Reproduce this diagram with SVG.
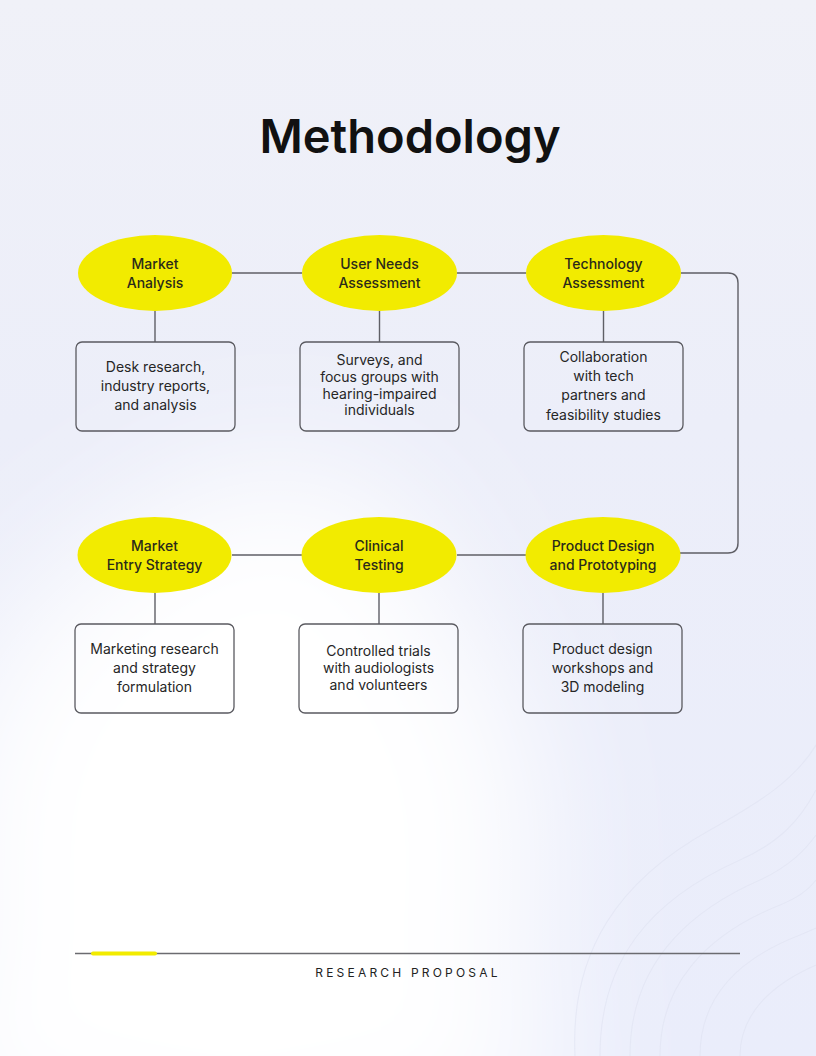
<svg xmlns="http://www.w3.org/2000/svg" width="816" height="1056" viewBox="0 0 816 1056">
  <defs>
    <linearGradient id="bgBase" x1="0" y1="0" x2="0" y2="1">
      <stop offset="0" stop-color="#f0f1f8"/>
      <stop offset="0.4" stop-color="#eceef9"/>
      <stop offset="1" stop-color="#eaedfb"/>
    </linearGradient>
    <filter id="blur" x="-50%" y="-50%" width="200%" height="200%">
      <feGaussianBlur stdDeviation="70"/>
    </filter>
    <style>
      .title { font-family: "Inter", "Open Sans", sans-serif; font-weight: 600; font-size: 47px; fill: #111111; }
      .oval { fill: #f2eb00; }
      .ovaltxt { font-family: "Inter", "Open Sans", sans-serif; font-weight: 500; font-size: 14px; fill: #2a2a1a; text-anchor: middle; }
      .box { fill: none; stroke: #5a5a60; stroke-width: 1.3; }
      .boxtxt { font-family: "Inter", "Open Sans", sans-serif; font-size: 14px; fill: #262626; text-anchor: middle; }
      .conn { fill: none; stroke: #5f5f66; stroke-width: 1.4; }
      .wave { fill: none; stroke: #dfe2f1; stroke-width: 1.2; }
      .footer { font-family: "Inter", "Open Sans", sans-serif; font-size: 12px; letter-spacing: 3.2px; fill: #222222; text-anchor: middle; }
    </style>
  </defs>

  <!-- background -->
  <rect x="0" y="0" width="816" height="1056" fill="url(#bgBase)"/>
  <g filter="url(#blur)">
    <ellipse cx="240" cy="850" rx="300" ry="340" fill="#ffffff"/>
    <ellipse cx="280" cy="560" rx="150" ry="90" fill="#ffffff"/>
    <rect x="-100" y="1000" width="650" height="150" fill="#ffffff"/>
  </g>
  <g id="waves" opacity="0.55">
    <path class="wave" d="M600 1056 C 600 960, 650 900, 740 860 C 780 842, 800 820, 816 790"/>
    <path class="wave" d="M630 1056 C 630 970, 680 915, 760 880 C 790 866, 805 850, 816 835"/>
    <path class="wave" d="M660 1056 C 660 985, 705 935, 780 905 C 800 897, 810 888, 816 880"/>
    <path class="wave" d="M700 1056 C 700 1000, 735 960, 800 935 L 816 928"/>
    <path class="wave" d="M740 1056 C 740 1015, 770 985, 816 965"/>
    <path class="wave" d="M575 1056 C 570 950, 620 880, 710 830 C 760 802, 795 780, 816 745"/>
  </g>

  <!-- title -->
  <text class="title" x="410" y="153" text-anchor="middle">Methodology</text>

  <!-- connectors -->
  <g id="connectors">
    <line class="conn" x1="232" y1="273" x2="302" y2="273"/>
    <line class="conn" x1="457" y1="273" x2="526" y2="273"/>
    <path class="conn" d="M681 273 H728 Q738 273 738 283 V543 Q738 553 728 553 H680"/>
    <line class="conn" x1="232" y1="555" x2="302" y2="555"/>
    <line class="conn" x1="457" y1="555" x2="526" y2="555"/>
    <line class="conn" x1="155" y1="311" x2="155" y2="342"/>
    <line class="conn" x1="379.5" y1="311" x2="379.5" y2="342"/>
    <line class="conn" x1="603.5" y1="311" x2="603.5" y2="342"/>
    <line class="conn" x1="155" y1="593" x2="155" y2="624"/>
    <line class="conn" x1="379" y1="593" x2="379" y2="624"/>
    <line class="conn" x1="603" y1="593" x2="603" y2="624"/>
  </g>

  <!-- row 1 -->
  <g id="market-analysis">
    <ellipse class="oval" cx="155" cy="273" rx="77" ry="38"/>
    <text class="ovaltxt" x="155" y="269">Market</text>
    <text class="ovaltxt" x="155" y="288">Analysis</text>
  </g>
  <g id="market-analysis-detail">
    <rect class="box" x="76" y="342" width="159" height="89" rx="6"/>
    <text class="boxtxt" x="155.5" y="372">Desk research,</text>
    <text class="boxtxt" x="155.5" y="391">industry reports,</text>
    <text class="boxtxt" x="155.5" y="410">and analysis</text>
  </g>

  <g id="user-needs">
    <ellipse class="oval" cx="379.5" cy="273" rx="77.5" ry="38"/>
    <text class="ovaltxt" x="379.5" y="269">User Needs</text>
    <text class="ovaltxt" x="379.5" y="288">Assessment</text>
  </g>
  <g id="user-needs-detail">
    <rect class="box" x="300" y="342" width="159" height="89" rx="6"/>
    <text class="boxtxt" x="379.5" y="365">Surveys, and</text>
    <text class="boxtxt" x="379.5" y="382">focus groups with</text>
    <text class="boxtxt" x="379.5" y="399">hearing-impaired</text>
    <text class="boxtxt" x="379.5" y="415">individuals</text>
  </g>

  <g id="technology">
    <ellipse class="oval" cx="603.5" cy="273" rx="77.5" ry="38"/>
    <text class="ovaltxt" x="603.5" y="269">Technology</text>
    <text class="ovaltxt" x="603.5" y="288">Assessment</text>
  </g>
  <g id="technology-detail">
    <rect class="box" x="524" y="342" width="159" height="89" rx="6"/>
    <text class="boxtxt" x="603.5" y="362">Collaboration</text>
    <text class="boxtxt" x="603.5" y="381">with tech</text>
    <text class="boxtxt" x="603.5" y="400">partners and</text>
    <text class="boxtxt" x="603.5" y="420">feasibility studies</text>
  </g>

  <!-- row 2 -->
  <g id="market-entry">
    <ellipse class="oval" cx="154.5" cy="555" rx="77" ry="38"/>
    <text class="ovaltxt" x="154.5" y="551">Market</text>
    <text class="ovaltxt" x="154.5" y="570">Entry Strategy</text>
  </g>
  <g id="market-entry-detail">
    <rect class="box" x="75" y="624" width="159" height="89" rx="6"/>
    <text class="boxtxt" x="154.5" y="654">Marketing research</text>
    <text class="boxtxt" x="154.5" y="673">and strategy</text>
    <text class="boxtxt" x="154.5" y="692">formulation</text>
  </g>

  <g id="clinical">
    <ellipse class="oval" cx="379" cy="555" rx="77.5" ry="38"/>
    <text class="ovaltxt" x="379" y="551">Clinical</text>
    <text class="ovaltxt" x="379" y="570">Testing</text>
  </g>
  <g id="clinical-detail">
    <rect class="box" x="299" y="624" width="159" height="89" rx="6"/>
    <text class="boxtxt" x="378.5" y="656">Controlled trials</text>
    <text class="boxtxt" x="378.5" y="673">with audiologists</text>
    <text class="boxtxt" x="378.5" y="690">and volunteers</text>
  </g>

  <g id="product-design">
    <ellipse class="oval" cx="603" cy="555" rx="77.5" ry="38"/>
    <text class="ovaltxt" x="603" y="551">Product Design</text>
    <text class="ovaltxt" x="603" y="570">and Prototyping</text>
  </g>
  <g id="product-design-detail">
    <rect class="box" x="523" y="624" width="159" height="89" rx="6"/>
    <text class="boxtxt" x="602.5" y="654">Product design</text>
    <text class="boxtxt" x="602.5" y="673">workshops and</text>
    <text class="boxtxt" x="602.5" y="692">3D modeling</text>
  </g>

  <!-- footer -->
  <g id="footer">
    <line x1="75" y1="953.5" x2="740" y2="953.5" stroke="#6b6b70" stroke-width="1.5"/>
    <line x1="93" y1="953.5" x2="155" y2="953.5" stroke="#f2eb00" stroke-width="4" stroke-linecap="round"/>
    <text class="footer" x="408" y="977">RESEARCH PROPOSAL</text>
  </g>
</svg>
